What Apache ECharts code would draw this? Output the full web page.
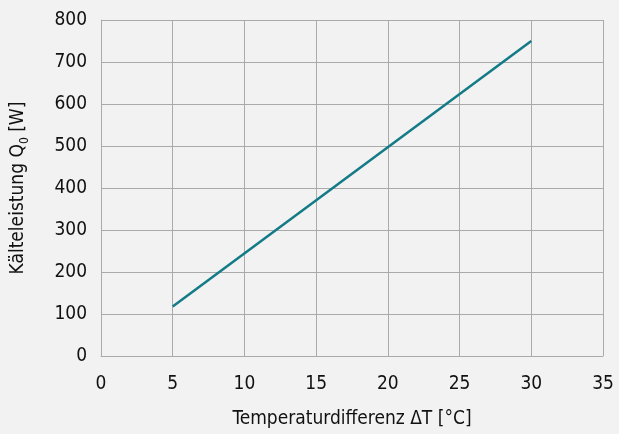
<!DOCTYPE html>
<html>
<head>
<meta charset="utf-8">
<script src="https://cdn.jsdelivr.net/npm/echarts@6/dist/echarts.min.js"></script>
<style>
    html, body { margin: 0; padding: 0; background: #f2f2f2; }
    #chart { width: 619px; height: 434px; }
</style>
</head>
<body>
<div id="chart"></div>
<script>
var deltaT = [5, 30];
var power = [118, 750];
var xTicks = [0, 5, 10, 15, 20, 25, 30, 35];
var yTicks = [0, 100, 200, 300, 400, 500, 600, 700, 800];

(function () {
    var font = '"Liberation Sans Narrow", "DejaVu Sans Condensed", Roboto, sans-serif';
    var gridColor = '#aaaaaa';

    var points = [];
    for (var i = 0; i < deltaT.length; i++) {
        points.push([deltaT[i], power[i]]);
    }

    var option = {
        backgroundColor: '#f2f2f2',
        animation: false,
        grid: { left: 101, right: 16, top: 20, bottom: 75 },
        xAxis: {
            type: 'value',
            min: xTicks[0],
            max: xTicks[xTicks.length - 1],
            interval: 5,
            name: 'Temperaturdifferenz ΔT [°C]',
            nameLocation: 'middle',
            nameGap: 54,
            nameTextStyle: { fontFamily: font, fontSize: 19, color: '#111' },
            axisLine: { show: true, lineStyle: { color: gridColor, width: 1 } },
            axisTick: { show: false },
            axisLabel: { fontFamily: font, fontSize: 19, color: '#111', margin: 19 },
            splitLine: { show: true, lineStyle: { color: gridColor, width: 1 } }
        },
        yAxis: {
            type: 'value',
            min: yTicks[0],
            max: yTicks[yTicks.length - 1],
            interval: 100,
            name: '{n|Kälteleistung Q}{s|0}{n| [W]}',
            nameLocation: 'middle',
            nameGap: 70,
            nameTextStyle: {
                rich: {
                    n: { fontFamily: font, fontSize: 19, color: '#111' },
                    s: { fontFamily: font, fontSize: 12, color: '#111', padding: [14, 0, 0, 0] }
                }
            },
            axisLine: { show: true, lineStyle: { color: gridColor, width: 1 } },
            axisTick: { show: false },
            axisLabel: { fontFamily: font, fontSize: 19, color: '#111', margin: 14 },
            splitLine: { show: true, lineStyle: { color: gridColor, width: 1 } }
        },
        series: [{
            type: 'line',
            data: points,
            symbol: 'none',
            lineStyle: { color: '#137b87', width: 2.5 }
        }]
    };

    var chart = echarts.init(document.getElementById('chart'));
    chart.setOption(option);
})();
</script>
</body>
</html>
